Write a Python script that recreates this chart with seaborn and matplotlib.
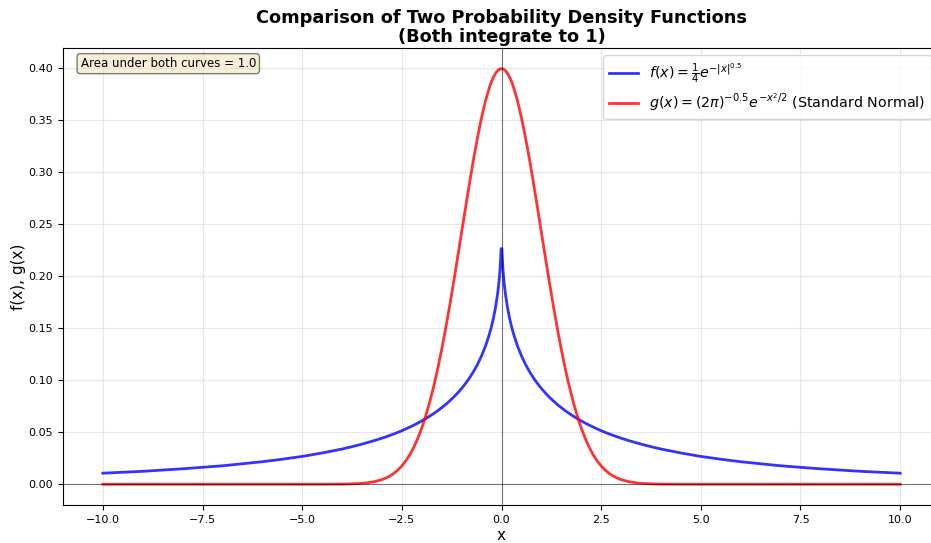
import numpy as np
import pandas as pd
import matplotlib
matplotlib.use("Agg")
import matplotlib.pyplot as plt
import seaborn as sns

# x positions (denser near the peak)
x_vals = [-10, -9, -8, -7, -6, -5.5, -5, -4.5, -4.0, -3.8, -3.6, -3.4, -3.2, -3.0,
          -2.9, -2.8, -2.7, -2.6, -2.5, -2.4, -2.3, -2.2, -2.1, -2.0, -1.9, -1.8,
          -1.7, -1.6, -1.5, -1.4, -1.3, -1.2, -1.1, -1.0, -0.9, -0.8, -0.7, -0.6,
          -0.5, -0.4, -0.3, -0.25, -0.2, -0.15, -0.1, -0.07, -0.05, -0.04, -0.03,
          -0.02, -0.01,
          0.01, 0.02, 0.03, 0.04, 0.05, 0.07, 0.1, 0.15, 0.2, 0.25, 0.3, 0.4, 0.5,
          0.6, 0.7, 0.8, 0.9, 1.0, 1.1, 1.2, 1.3, 1.4, 1.5, 1.6, 1.7, 1.8, 1.9,
          2.0, 2.1, 2.2, 2.3, 2.4, 2.5, 2.6, 2.7, 2.8, 2.9, 3.0, 3.2, 3.4, 3.6,
          3.8, 4.0, 4.5, 5, 5.5, 6, 7, 8, 9, 10]

# f(x) = 1/4 e^{-|x|^0.5}
f_vals = [0.0106, 0.0124, 0.0148, 0.0177, 0.0216, 0.0240, 0.0267, 0.0300, 0.0338,
          0.0356, 0.0375, 0.0396, 0.0418, 0.0442, 0.0455, 0.0469, 0.0483, 0.0498,
          0.0514, 0.0531, 0.0549, 0.0567, 0.0587, 0.0608, 0.0630, 0.0654, 0.0679,
          0.0706, 0.0735, 0.0766, 0.0800, 0.0836, 0.0876, 0.0920, 0.0968, 0.1022,
          0.1083, 0.1152, 0.1233, 0.1328, 0.1446, 0.1516, 0.1598, 0.1697, 0.1822,
          0.1919, 0.1999, 0.2047, 0.2103, 0.2170, 0.2262,
          0.2262, 0.2170, 0.2103, 0.2047, 0.1999, 0.1919, 0.1822, 0.1697, 0.1598,
          0.1516, 0.1446, 0.1328, 0.1233, 0.1152, 0.1083, 0.1022, 0.0968, 0.0920,
          0.0876, 0.0836, 0.0800, 0.0766, 0.0735, 0.0706, 0.0679, 0.0654, 0.0630,
          0.0608, 0.0587, 0.0567, 0.0549, 0.0531, 0.0514, 0.0498, 0.0483, 0.0469,
          0.0455, 0.0442, 0.0418, 0.0396, 0.0375, 0.0356, 0.0338, 0.0300, 0.0267,
          0.0240, 0.0216, 0.0177, 0.0148, 0.0124, 0.0106]

# g(x) standard normal density
g_vals = [0.0, 0.0, 0.0, 0.0, 0.0, 0.0, 0.0, 0.0, 0.0001, 0.0003, 0.0006, 0.0012,
          0.0024, 0.0044, 0.0060, 0.0079, 0.0104, 0.0136, 0.0175, 0.0224, 0.0283,
          0.0355, 0.0440, 0.0540, 0.0656, 0.0790, 0.0940, 0.1109, 0.1295, 0.1497,
          0.1714, 0.1942, 0.2179, 0.2420, 0.2661, 0.2897, 0.3123, 0.3332, 0.3521,
          0.3683, 0.3814, 0.3867, 0.3910, 0.3945, 0.3970, 0.3980, 0.3984, 0.3986,
          0.3987, 0.3989, 0.3989,
          0.3989, 0.3989, 0.3987, 0.3986, 0.3984, 0.3980, 0.3970, 0.3945, 0.3910,
          0.3867, 0.3814, 0.3683, 0.3521, 0.3332, 0.3123, 0.2897, 0.2661, 0.2420,
          0.2179, 0.1942, 0.1714, 0.1497, 0.1295, 0.1109, 0.0940, 0.0790, 0.0656,
          0.0540, 0.0440, 0.0355, 0.0283, 0.0224, 0.0175, 0.0136, 0.0104, 0.0079,
          0.0060, 0.0044, 0.0024, 0.0012, 0.0006, 0.0003, 0.0001, 0.0, 0.0, 0.0,
          0.0, 0.0, 0.0, 0.0, 0.0]

df = pd.DataFrame({"x": x_vals, "f": f_vals, "g": g_vals})

fig = plt.figure(figsize=(9.31, 5.43), dpi=100)
ax = fig.add_axes([63 / 931, 38 / 543, 877 / 931, 457 / 543])

sns.lineplot(data=df, x="x", y="f", ax=ax, color="blue", alpha=0.8, linewidth=2,
             sort=False, label=r"$f(x) = \frac{1}{4}e^{-|x|^{0.5}}$")
sns.lineplot(data=df, x="x", y="g", ax=ax, color="red", alpha=0.8, linewidth=2,
             sort=False, label=r"$g(x) = (2\pi)^{-0.5}e^{-x^2/2}$ (Standard Normal)")

ax.axhline(0, color="black", linewidth=0.8, alpha=0.5)
ax.axvline(0, color="black", linewidth=0.8, alpha=0.5)

ax.set_xlabel("x", fontsize=11, labelpad=2)
ax.set_ylabel("f(x), g(x)", fontsize=11, labelpad=2)
ax.set_title("Comparison of Two Probability Density Functions\n(Both integrate to 1)",
             fontsize=12.75, fontweight="bold", pad=4, linespacing=1.1)
ax.tick_params(labelsize=8)
ax.grid(True, alpha=0.3)
ax.legend(loc="upper right", fontsize=10.3, bbox_to_anchor=(0.9977, 1.0))

ax.text(0.02, 0.98, "Area under both curves = 1.0", transform=ax.transAxes,
        fontsize=8.5, va="top",
        bbox=dict(boxstyle="round", facecolor="wheat", alpha=0.5))

fig.savefig("out.png", dpi=100)
